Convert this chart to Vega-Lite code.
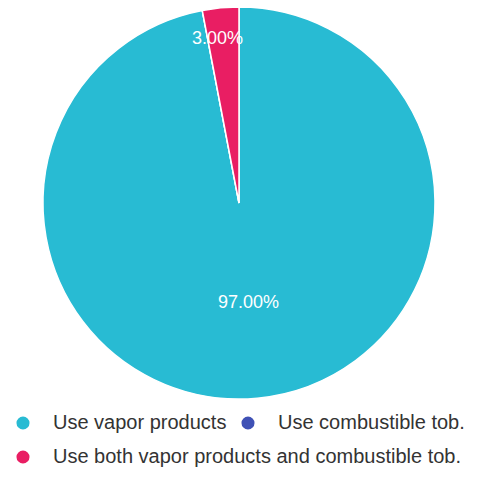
{
  "$schema": "https://vega.github.io/schema/vega-lite/v6.json",
  "width": 478,
  "height": 406,
  "padding": {"left": 0, "top": 0, "right": 2, "bottom": 71},
  "autosize": {"type": "none"},
  "background": "white",
  "config": {"view": {"stroke": null}, "font": "Liberation Sans"},
  "data": {
    "values": [
      {"group": "Use vapor products", "share": 0.97},
      {"group": "Use combustible tob.", "share": 0.0},
      {"group": "Use both vapor products and combustible tob.", "share": 0.03}
    ]
  },
  "encoding": {
    "theta": {"field": "share", "type": "quantitative", "stack": true},
    "order": {"field": "group", "sort": "descending"}
  },
  "layer": [
    {
      "description": "Inner arcs, covered by the main pie, that carry the second legend row",
      "mark": {"type": "arc", "outerRadius": 120, "fill": "#e91e63", "strokeWidth": 1},
      "encoding": {
        "stroke": {
          "field": "group",
          "type": "nominal",
          "scale": {
            "domain": ["Use both vapor products and combustible tob.", "Use vapor products", "Use combustible tob."],
            "range": ["#e91e63", "#28bbd3", "#3f51b5"]
          },
          "legend": {
            "title": null,
            "orient": "none",
            "direction": "horizontal",
            "values": ["Use both vapor products and combustible tob."],
            "legendX": 13,
            "legendY": 447,
            "symbolType": "circle",
            "symbolSize": 170,
            "symbolStrokeWidth": 0,
            "symbolFillColor": "#e91e63",
            "labelFontSize": 20,
            "labelColor": "#333333",
            "labelOffset": 20,
            "labelLimit": 480
          }
        }
      }
    },
    {
      "mark": {"type": "arc", "outerRadius": 196, "stroke": "white", "strokeWidth": 1.5},
      "encoding": {
        "color": {
          "field": "group",
          "type": "nominal",
          "scale": {
            "domain": ["Use vapor products", "Use combustible tob.", "Use both vapor products and combustible tob."],
            "range": ["#28bbd3", "#3f51b5", "#e91e63"]
          },
          "legend": {
            "title": null,
            "orient": "none",
            "direction": "horizontal",
            "values": ["Use vapor products", "Use combustible tob."],
            "legendX": 13,
            "legendY": 413,
            "symbolType": "circle",
            "symbolSize": 170,
            "symbolStrokeWidth": 0,
            "labelFontSize": 20,
            "labelColor": "#333333",
            "labelOffset": 20,
            "labelLimit": 480,
            "columnPadding": 11
          }
        }
      }
    },
    {
      "mark": {"type": "text", "radius": 165, "fill": "white", "fontSize": 18, "dx": -6},
      "encoding": {
        "text": {
          "condition": {"test": "datum.share > 0 && datum.share < 0.5", "field": "share", "type": "quantitative", "format": ".2%"},
          "value": ""
        }
      }
    },
    {
      "mark": {"type": "text", "radius": 100, "fill": "white", "fontSize": 18},
      "encoding": {
        "text": {
          "condition": {"test": "datum.share >= 0.5", "field": "share", "type": "quantitative", "format": ".2%"},
          "value": ""
        }
      }
    }
  ]
}
